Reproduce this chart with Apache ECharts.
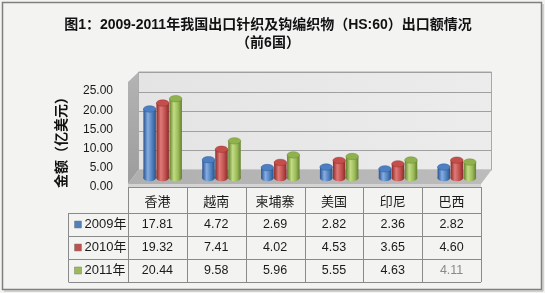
<!DOCTYPE html>
<html><head><meta charset="utf-8">
<script src="https://cdn.jsdelivr.net/npm/echarts@6/dist/echarts.min.js"></script>
<style>html,body{margin:0;padding:0;background:#fff}#c{width:545px;height:293px}</style>
</head><body><div id="c"></div>
<script>
// ---- data ----
const categories = ['香港', '越南', '柬埔寨', '美国', '印尼', '巴西'];
const seriesNames = ['2009年', '2010年', '2011年'];
const v2009 = [17.81, 4.72, 2.69, 2.82, 2.36, 2.82];
const v2010 = [19.32, 7.41, 4.02, 4.53, 3.65, 4.60];
const v2011 = [20.44, 9.58, 5.96, 5.55, 4.63, 4.11];
const yTicks = [0, 5, 10, 15, 20, 25];
const titleText = '图1：2009-2011年我国出口针织及钩编织物（HS:60）出口额情况\n（前6国）';
const yName = '金额（亿美元）';

const values = [v2009, v2010, v2011];
const FONT = "'Liberation Sans','Noto Sans CJK SC',sans-serif";
const palette = [
  { base: '#4F81BD', dark: '#2a528c', light: '#86ade3', top: '#4d7fc3' },
  { base: '#C0504D', dark: '#8a2c2a', light: '#e07a77', top: '#c44e4b' },
  { base: '#9BBB59', dark: '#647f2c', light: '#c2dc84', top: '#8fb24e' }
];
const yMax = yTicks[yTicks.length - 1];
// depth geometry (pixels)
const DX = 10.5, DY = -17, KB = 98 / 96;

function geom(api) {
  const c0 = api.coord([0, 0]);
  const bw = api.size([1, 0])[0];
  const xL = c0[0] - bw / 2;
  const xR = api.coord([categories.length - 1, 0])[0] + bw / 2;
  const y0 = c0[1];
  const yf = v => api.coord([0, v])[1];
  const yb = v => y0 + DY - (y0 - yf(v)) * KB;
  return { xL, xR, y0, bw, yf, yb };
}

function renderDecor(params, api) {
  const g = geom(api);
  const ch = [];
  const top = g.yb(yMax), bot = g.yb(0);
  ch.push({ type: 'rect', shape: { x: g.xL + DX, y: top, width: g.xR - g.xL, height: bot - top },
    style: { fill: { type: 'linear', x: 0, y: 0, x2: 1, y2: 0, colorStops: [{ offset: 0, color: '#e4e4e4' }, { offset: 1, color: '#ececec' }] }, stroke: '#a8a8a8', lineWidth: 1 } });
  yTicks.forEach(v => {
    if (v === 0) return;
    const y = Math.round(g.yb(v)) + 0.5;
    ch.push({ type: 'line', shape: { x1: g.xL + DX, y1: y, x2: g.xR + DX, y2: y }, style: { stroke: '#a0a0a0', lineWidth: 1.2 } });
  });
  ch.push({ type: 'polygon', shape: { points: [[g.xL, top + 10], [g.xL + DX, top], [g.xL + DX, bot], [g.xL, g.y0 - 3]] },
    style: { fill: { type: 'linear', x: 0, y: 0, x2: 0, y2: 1, colorStops: [{ offset: 0, color: '#b4b4b4' }, { offset: 1, color: '#9c9c9c' }] } } });
  ch.push({ type: 'polygon', shape: { points: [[g.xL, g.y0 - 3], [g.xL + DX, bot], [g.xR + DX, bot], [g.xR, g.y0 - 3]] },
    style: { fill: { type: 'linear', x: 0, y: 0, x2: 1, y2: 0, colorStops: [{ offset: 0, color: '#b0b0b0' }, { offset: 1, color: '#bcbcbc' }] } } });
  ch.push({ type: 'rect', shape: { x: g.xL, y: g.y0 - 3, width: g.xR - g.xL, height: 3 }, style: { fill: '#d4d4d4' } });
  ch.push({ type: 'line', shape: { x1: g.xL, y1: g.y0 + 0.5, x2: g.xR, y2: g.y0 + 0.5 }, style: { stroke: '#8c8c8c', lineWidth: 1 } });
  return { type: 'group', children: ch };
}

function makeCylinder(s) {
  return function (params, api) {
    const g = geom(api);
    const i = api.value(0), v = api.value(1);
    const p = palette[s];
    const w = 12.5, ry = 3.2;
    const cx = api.coord([i, 0])[0] + DX / 2 + (s - 1) * 13;
    const base = g.y0 - 9;
    const topY = base - (g.y0 - g.yf(v)) * 1.01;
    const grad = { type: 'linear', x: 0, y: 0, x2: 1, y2: 0,
      colorStops: [{ offset: 0, color: p.dark }, { offset: 0.35, color: p.light }, { offset: 0.7, color: p.base }, { offset: 1, color: p.dark }] };
    return { type: 'group', children: [
      { type: 'ellipse', shape: { cx: cx, cy: base, rx: w / 2, ry: ry }, style: { fill: grad } },
      { type: 'rect', shape: { x: cx - w / 2, y: topY, width: w, height: base - topY }, style: { fill: grad } },
      { type: 'ellipse', shape: { cx: cx, cy: topY, rx: w / 2, ry: ry }, style: { fill: p.top, stroke: p.dark, lineWidth: 0.4 } }
    ] };
  };
}

function renderTable(params, api) {
  const g = geom(api);
  const i = api.value(0);
  const cx = api.coord([i, 0])[0];
  const ch = [];
  const LC = '#8a8a8a';
  const rowLines = [26, 49, 72, 95];
  const rowCenters = [37.5, 60.5, 83.5];
  const xr = Math.round(cx + g.bw / 2) + 0.5;
  ch.push({ type: 'line', shape: { x1: xr, y1: g.y0, x2: xr, y2: g.y0 + 95 }, style: { stroke: LC, lineWidth: 1 } });
  if (i === 0) {
    const xl = Math.round(g.xL) + 0.5;
    const xleg = xl - 60;
    ch.push({ type: 'line', shape: { x1: xl, y1: g.y0, x2: xl, y2: g.y0 + 95 }, style: { stroke: LC, lineWidth: 1 } });
    ch.push({ type: 'line', shape: { x1: xleg, y1: g.y0 + 26, x2: xleg, y2: g.y0 + 95 }, style: { stroke: LC, lineWidth: 1 } });
    rowLines.forEach(d => {
      const y = Math.round(g.y0 + d) + 0.5;
      ch.push({ type: 'line', shape: { x1: xleg, y1: y, x2: g.xR, y2: y }, style: { stroke: LC, lineWidth: 1 } });
    });
    seriesNames.forEach((n, s) => {
      const yc = g.y0 + rowCenters[s];
      ch.push({ type: 'rect', shape: { x: xleg + 6, y: Math.round(yc) - 4, width: 7, height: 7 }, style: { fill: palette[s].base, stroke: '#7a7a7a', lineWidth: 0.5 } });
      ch.push({ type: 'text', style: { x: xleg + 16, y: yc, text: n, fill: '#1a1a1a', font: '13px ' + FONT, align: 'left', verticalAlign: 'middle' } });
    });
  }
  ch.push({ type: 'text', style: { x: cx, y: g.y0 + 15, text: categories[i], fill: '#1a1a1a', font: '13px ' + FONT, align: 'center', verticalAlign: 'middle' } });
  values.forEach((arr, s) => {
    const faded = (s === 2 && i === categories.length - 1);
    ch.push({ type: 'text', style: { x: cx, y: g.y0 + rowCenters[s], text: arr[i].toFixed(2), fill: faded ? '#8a8a8a' : '#1a1a1a', font: '12.5px ' + FONT, align: 'center', verticalAlign: 'middle' } });
  });
  return { type: 'group', children: ch };
}

const chart = echarts.init(document.getElementById('c'), null, { renderer: 'canvas' });
const series = [
  { type: 'custom', name: 'decor', renderItem: renderDecor, data: [[0, 0]], z: 1, silent: true }
];
values.forEach((arr, s) => {
  series.push({ type: 'custom', name: seriesNames[s], renderItem: makeCylinder(s), data: arr.map((v, i) => [i, v]), z: 2 + s });
});
series.push({ type: 'custom', name: 'table', renderItem: renderTable, data: categories.map((c, i) => [i, 0]), z: 10, silent: true });

chart.setOption({
  backgroundColor: '#f3f3f1',
  animation: false,
  title: {
    text: titleText, left: 263, top: 11, textAlign: 'center',
    textStyle: { fontSize: 14, fontWeight: 'bold', color: '#111', fontFamily: FONT, lineHeight: 18 }
  },
  graphic: [
    { type: 'rect', shape: { x: 2.5, y: 2.5, width: 539, height: 287 }, style: { fill: null, stroke: '#7f7f7f', lineWidth: 1.5 }, z: 100 },
    { type: 'line', shape: { x1: 4, y1: 291, x2: 543, y2: 291 }, style: { stroke: '#b0b0b0', lineWidth: 1 }, z: 100 },
    { type: 'line', shape: { x1: 543, y1: 4, x2: 543, y2: 291 }, style: { stroke: '#b0b0b0', lineWidth: 1 }, z: 100 }
  ],
  grid: { left: 128, right: 64, top: 91, bottom: 106 },
  xAxis: { type: 'category', data: categories, show: false },
  yAxis: {
    type: 'value', min: 0, max: yMax, interval: 5,
    name: yName, nameLocation: 'middle', nameRotate: 90, nameGap: 59,
    nameTextStyle: { fontSize: 14, fontWeight: 'bold', color: '#111', fontFamily: FONT },
    axisLine: { show: false }, axisTick: { show: false }, splitLine: { show: false },
    axisLabel: { formatter: v => v.toFixed(2), fontSize: 12, color: '#1a1a1a', fontFamily: FONT, margin: 15 }
  },
  series: series
});
</script></body></html>
